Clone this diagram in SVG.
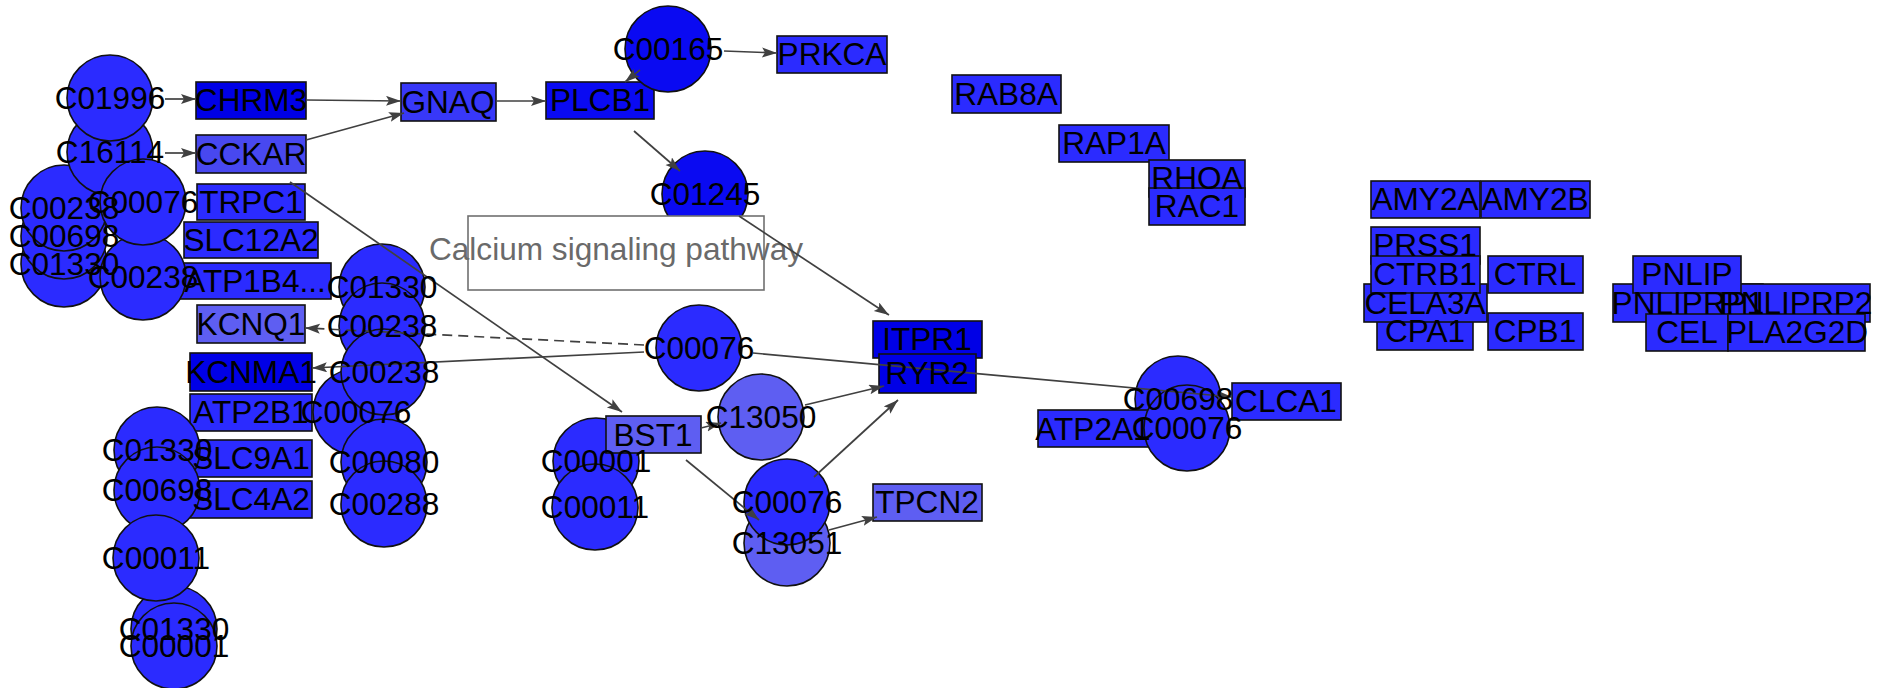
<svg xmlns="http://www.w3.org/2000/svg" width="1883" height="688" viewBox="0 0 1883 688">
<style>
.g{stroke:#111;stroke-width:1.6}
.std{fill:#2B2BFF}
.dk{fill:#0000E6}
.dk2{fill:#0A0AF2}
.mid{fill:#4848F0}
.gnaq{fill:#3838F8}
.lt{fill:#5E5EF2}
.e{stroke:#404040;stroke-width:1.7;fill:none;marker-end:url(#ah)}
.dash{stroke-dasharray:10,6}
text{font-family:"Liberation Sans",Arial,Helvetica,sans-serif;font-size:31.6px;fill:#000;text-anchor:middle}
.title{fill:#6A6A6A}
</style>
<defs>
<marker id="ah" markerUnits="userSpaceOnUse" markerWidth="16" markerHeight="12" refX="15" refY="5" orient="auto">
<path d="M0,0 L15,5 L0,10 L3,5 z" fill="#404040"/>
</marker>
</defs>
<rect width="1883" height="688" fill="#fff"/>
<g id="nodes">
<g id="n-CHRM3"><rect class="g dk" x="196" y="82" width="110" height="37"/></g>
<g id="n-CCKAR"><rect class="g mid" x="196" y="135" width="110" height="38"/></g>
<g id="n-TRPC1"><rect class="g std" x="197" y="184" width="108" height="36"/></g>
<g id="n-SLC12A2"><rect class="g std" x="184" y="222" width="134" height="36"/></g>
<g id="n-ATP1B4"><rect class="g std" x="180" y="263" width="151" height="36"/></g>
<g id="n-KCNQ1"><rect class="g lt" x="197" y="305" width="108" height="38"/></g>
<g id="n-KCNMA1"><rect class="g dk" x="190" y="353" width="122" height="38"/></g>
<g id="n-ATP2B1"><rect class="g std" x="190" y="394" width="122" height="37"/></g>
<g id="n-SLC9A1"><rect class="g std" x="190" y="440" width="122" height="37"/></g>
<g id="n-SLC4A2"><rect class="g std" x="190" y="481" width="122" height="37"/></g>
<g id="n-GNAQ"><rect class="g gnaq" x="401" y="83" width="95" height="38"/></g>
<g id="n-PLCB1"><rect class="g dk2" x="546" y="82" width="108" height="37"/></g>
<g id="n-PRKCA"><rect class="g std" x="777" y="36" width="110" height="37"/></g>
<g id="n-ITPR1"><rect class="g dk" x="873" y="321" width="109" height="37"/></g>
<g id="n-RYR2"><rect class="g dk" x="879" y="354" width="97" height="39"/></g>
<g id="n-TPCN2"><rect class="g lt" x="873" y="484" width="109" height="37"/></g>
<g id="n-CLCA1"><rect class="g std" x="1232" y="383" width="109" height="37"/></g>
<g id="n-RAB8A"><rect class="g std" x="952" y="75" width="109" height="38"/></g>
<g id="n-RAP1A"><rect class="g std" x="1059" y="125" width="110" height="37"/></g>
<g id="n-RHOA"><rect class="g std" x="1149" y="160" width="96" height="37"/></g>
<g id="n-RAC1"><rect class="g std" x="1149" y="188" width="96" height="37"/></g>
<g id="n-AMY2A"><rect class="g std" x="1371" y="181" width="109" height="37"/></g>
<g id="n-AMY2B"><rect class="g std" x="1481" y="181" width="109" height="37"/></g>
<g id="n-CPA1"><rect class="g std" x="1377" y="313" width="96" height="37"/></g>
<g id="n-CELA3A"><rect class="g std" x="1364" y="284" width="123" height="38"/></g>
<g id="n-PRSS1"><rect class="g std" x="1371" y="227" width="109" height="37"/></g>
<g id="n-CTRB1"><rect class="g std" x="1371" y="256" width="109" height="37"/></g>
<g id="n-CTRL"><rect class="g std" x="1488" y="256" width="95" height="37"/></g>
<g id="n-CPB1"><rect class="g std" x="1488" y="313" width="95" height="37"/></g>
<g id="n-PNLIPRP1"><rect class="g std" x="1613" y="284" width="150" height="38"/></g>
<g id="n-PNLIPRP2"><rect class="g std" x="1722" y="284" width="148" height="38"/></g>
<g id="n-PNLIP"><rect class="g std" x="1633" y="256" width="108" height="37"/></g>
<g id="n-CEL"><rect class="g std" x="1646" y="314" width="82" height="37"/></g>
<g id="n-PLA2G2D"><rect class="g std" x="1728" y="314" width="137" height="37"/></g>
<g id="n-C01330a"><circle class="g std" cx="64" cy="264" r="43"/></g>
<g id="n-C00698a"><circle class="g std" cx="64" cy="236" r="43"/></g>
<g id="n-C00238a"><circle class="g std" cx="64" cy="208" r="43"/></g>
<g id="n-C16114"><circle class="g std" cx="110" cy="152" r="43"/></g>
<g id="n-C01996"><circle class="g std" cx="110" cy="98" r="43"/></g>
<g id="n-C00238b"><circle class="g std" cx="143" cy="277" r="43"/></g>
<g id="n-C00076a"><circle class="g std" cx="143" cy="202" r="43"/></g>
<g id="n-C01330b"><circle class="g std" cx="382" cy="287" r="43"/></g>
<g id="n-C00238c"><circle class="g std" cx="382" cy="326" r="43"/></g>
<g id="n-C00076b"><circle class="g std" cx="356" cy="412" r="43"/></g>
<g id="n-C00238d"><circle class="g std" cx="384" cy="372" r="43"/></g>
<g id="n-C00080"><circle class="g std" cx="384" cy="462" r="43"/></g>
<g id="n-C00288"><circle class="g std" cx="384" cy="504" r="43"/></g>
<g id="n-C01330c"><circle class="g std" cx="157" cy="450" r="43"/></g>
<g id="n-C00698b"><circle class="g std" cx="157" cy="490" r="43"/></g>
<g id="n-C01330d"><circle class="g std" cx="174" cy="629" r="43"/></g>
<g id="n-C00001a"><circle class="g std" cx="174" cy="646" r="43"/></g>
<g id="n-C00011a"><circle class="g std" cx="156" cy="558" r="43"/></g>
<g id="n-C00165"><circle class="g dk2" cx="668" cy="49" r="43"/></g>
<g id="n-C01245"><circle class="g dk2" cx="705" cy="194" r="43"/></g>
<g id="n-C00076c"><circle class="g std" cx="699" cy="348" r="43"/></g>
<g id="n-C13050"><circle class="g lt" cx="761" cy="417" r="43"/></g>
<g id="n-C00001b"><circle class="g std" cx="596" cy="461" r="43"/></g>
<g id="n-BST1"><rect class="g lt" x="606" y="416" width="95" height="37"/></g>
<g id="n-C00011b"><circle class="g std" cx="595" cy="507" r="43"/></g>
<g id="n-C13051"><circle class="g lt" cx="787" cy="543" r="43"/></g>
<g id="n-C00076d"><circle class="g std" cx="787" cy="502" r="43"/></g>
<g id="n-C00698c"><circle class="g std" cx="1178" cy="399" r="43"/></g>
<g id="n-ATP2A1"><rect class="g std" x="1038" y="410" width="110" height="37"/></g>
<g id="n-C00076e"><circle class="g std" cx="1187" cy="428" r="43"/></g>
</g>
<g id="pathway-box">
<rect x="468" y="216" width="296" height="74" fill="#fff" stroke="#707070" stroke-width="1.6"/>
<text class="title" x="616" y="260">Calcium signaling pathway</text>
</g>
<g id="edges">
<line class="e" x1="165" y1="99" x2="196" y2="99"/>
<line class="e" x1="165" y1="153" x2="196" y2="153"/>
<line class="e" x1="306" y1="100" x2="401" y2="101"/>
<line class="e" x1="306" y1="140" x2="404" y2="113"/>
<line class="e" x1="496" y1="101" x2="546" y2="101"/>
<line class="e" x1="640" y1="70" x2="625" y2="82"/>
<line class="e" x1="634" y1="131" x2="680" y2="171"/>
<line class="e" x1="724" y1="51" x2="777" y2="53"/>
<line class="e" x1="739" y1="216" x2="889" y2="315"/>
<line class="e" x1="290" y1="182" x2="622" y2="412"/>
<line class="e" x1="701" y1="428" x2="721" y2="423"/>
<line class="e" x1="686" y1="460" x2="759" y2="520"/>
<line class="e" x1="805" y1="405" x2="884" y2="386"/>
<line class="e" x1="814" y1="477" x2="898" y2="400"/>
<line class="e" x1="829" y1="530" x2="877" y2="517"/>
<line class="e dash" x1="644" y1="345" x2="305" y2="328"/>
<line class="e" x1="644" y1="352" x2="312" y2="368"/>
<line class="e" x1="753" y1="353" x2="1232" y2="397"/>
</g>
<g id="labels">
<text x="251" y="111">CHRM3</text>
<text x="251" y="165">CCKAR</text>
<text x="251" y="213">TRPC1</text>
<text x="251" y="251">SLC12A2</text>
<text x="255" y="292">ATP1B4...</text>
<text x="251" y="335">KCNQ1</text>
<text x="251" y="383">KCNMA1</text>
<text x="251" y="423">ATP2B1</text>
<text x="251" y="469">SLC9A1</text>
<text x="251" y="510">SLC4A2</text>
<text x="448" y="113">GNAQ</text>
<text x="600" y="111">PLCB1</text>
<text x="832" y="65">PRKCA</text>
<text x="927" y="350">ITPR1</text>
<text x="927" y="384">RYR2</text>
<text x="927" y="513">TPCN2</text>
<text x="1286" y="412">CLCA1</text>
<text x="1006" y="105">RAB8A</text>
<text x="1114" y="154">RAP1A</text>
<text x="1197" y="189">RHOA</text>
<text x="1197" y="217">RAC1</text>
<text x="1425" y="210">AMY2A</text>
<text x="1535" y="210">AMY2B</text>
<text x="1425" y="342">CPA1</text>
<text x="1425" y="314">CELA3A</text>
<text x="1425" y="256">PRSS1</text>
<text x="1425" y="285">CTRB1</text>
<text x="1535" y="285">CTRL</text>
<text x="1535" y="342">CPB1</text>
<text x="1688" y="314">PNLIPRP1</text>
<text x="1796" y="314">PNLIPRP2</text>
<text x="1687" y="285">PNLIP</text>
<text x="1687" y="343">CEL</text>
<text x="1797" y="343">PLA2G2D</text>
<text x="64" y="275">C01330</text>
<text x="64" y="247">C00698</text>
<text x="64" y="219">C00238</text>
<text x="110" y="163">C16114</text>
<text x="110" y="109">C01996</text>
<text x="143" y="288">C00238</text>
<text x="143" y="213">C00076</text>
<text x="382" y="298">C01330</text>
<text x="382" y="337">C00238</text>
<text x="356" y="423">C00076</text>
<text x="384" y="383">C00238</text>
<text x="384" y="473">C00080</text>
<text x="384" y="515">C00288</text>
<text x="157" y="461">C01330</text>
<text x="157" y="501">C00698</text>
<text x="174" y="640">C01330</text>
<text x="174" y="657">C00001</text>
<text x="156" y="569">C00011</text>
<text x="668" y="60">C00165</text>
<text x="705" y="205">C01245</text>
<text x="699" y="359">C00076</text>
<text x="761" y="428">C13050</text>
<text x="596" y="472">C00001</text>
<text x="653" y="446">BST1</text>
<text x="595" y="518">C00011</text>
<text x="787" y="554">C13051</text>
<text x="787" y="513">C00076</text>
<text x="1178" y="410">C00698</text>
<text x="1093" y="440">ATP2A1</text>
<text x="1187" y="439">C00076</text>
</g>
</svg>
